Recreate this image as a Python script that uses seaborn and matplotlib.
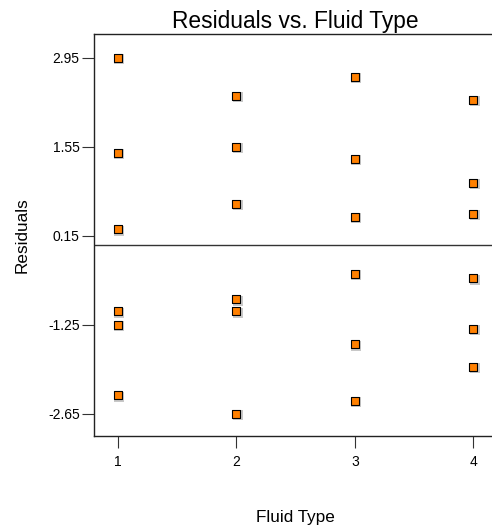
import pandas as pd
import seaborn as sns
import matplotlib
matplotlib.use("Agg")
import matplotlib.pyplot as plt

# residuals, six runs per fluid type
fluid_type = [1] * 6 + [2] * 6 + [3] * 6 + [4] * 6
residuals = [2.95, 1.45, 0.25, -1.04, -1.25, -2.36,
             2.35, 1.55, 0.65, -0.85, -1.04, -2.65,
             2.65, 1.36, 0.45, -0.45, -1.56, -2.45,
             2.29, 0.98, 0.49, -0.52, -1.32, -1.91]
y_ticks = [2.95, 1.55, 0.15, -1.25, -2.65]
x_ticks = [1, 2, 3, 4]

df = pd.DataFrame({"Fluid Type": fluid_type, "Residuals": residuals})

sns.set_style("ticks")
plt.rcParams["font.family"] = ["Liberation Sans", "DejaVu Sans"]
plt.rcParams["text.color"] = "black"
plt.rcParams["axes.labelcolor"] = "black"
plt.rcParams["xtick.labelcolor"] = "black"
plt.rcParams["ytick.labelcolor"] = "black"

fig = plt.figure(figsize=(4.92, 5.27), dpi=100)
ax = fig.add_axes([0.1917, 0.1727, 0.8185, 0.7628])

# gray shadow behind each marker
ax.scatter(df["Fluid Type"] + 0.01, df["Residuals"] - 0.02, marker="s", s=44,
           color="#c8c8c8", linewidths=0, zorder=2)
sns.scatterplot(data=df, x="Fluid Type", y="Residuals", ax=ax, marker="s", s=34,
                color="#ff8000", edgecolor="black", linewidth=0.8, zorder=3)
ax.axhline(0, color="#333333", linewidth=1.0, zorder=1)

ax.set_xlim(0.8, 4.2)
ax.set_ylim(-3.0, 3.32)
ax.set_xticks(x_ticks)
ax.set_xticklabels([str(t) for t in x_ticks])
ax.set_yticks(y_ticks)
ax.set_yticklabels([f"{t:.2f}" for t in y_ticks])
ax.tick_params(axis="both", labelsize=10, length=8.5, width=0.8, color="#333333",
               labelcolor="black")
ax.tick_params(axis="x", pad=5)
ax.tick_params(axis="y", pad=2)

for s in ax.spines.values():
    s.set_linewidth(1.0)
    s.set_color("#222222")

ax.set_title("Residuals vs. Fluid Type", fontsize=16.4, pad=4.5, color="black")
ax.set_xlabel("Fluid Type", fontsize=12.3, labelpad=30, color="black")
ax.set_ylabel("Residuals", fontsize=12.3, labelpad=13, color="black")

fig.savefig("out.png", dpi=100)
